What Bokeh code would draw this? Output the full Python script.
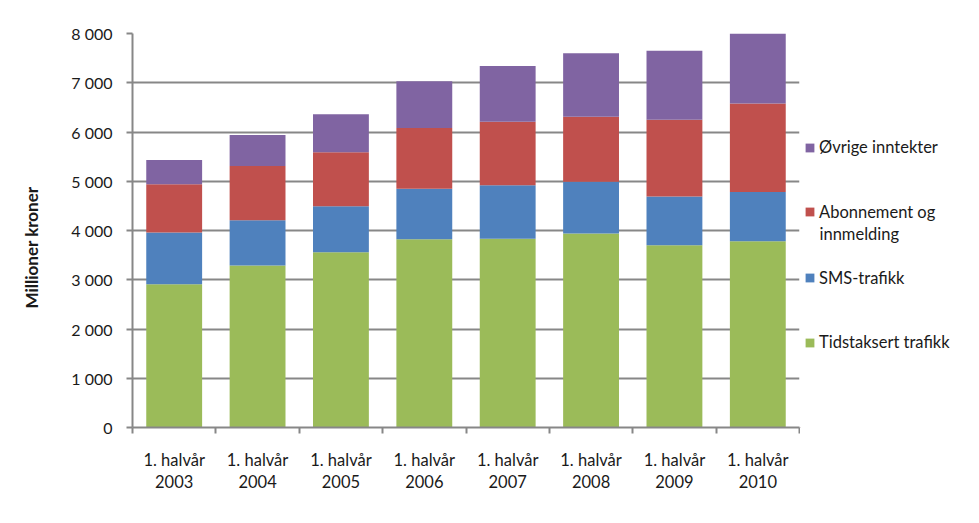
from bokeh.plotting import figure
from bokeh.layouts import row
from bokeh.models import FixedTicker, Legend, LegendItem, Label, Range1d, ColumnDataSource
from bokeh.embed import file_html
from bokeh.resources import INLINE

periods = ["1. halvår\n2003", "1. halvår\n2004", "1. halvår\n2005", "1. halvår\n2006",
           "1. halvår\n2007", "1. halvår\n2008", "1. halvår\n2009", "1. halvår\n2010"]
tidstaksert = [2910, 3290, 3560, 3820, 3835, 3940, 3700, 3780]
sms = [1050, 920, 930, 1030, 1085, 1050, 990, 1000]
abonnement = [980, 1100, 1100, 1230, 1290, 1320, 1560, 1800]
ovrige = [490, 630, 770, 950, 1130, 1290, 1400, 1420]
series_names = ["Tidstaksert trafikk", "SMS-trafikk", "Abonnement og", "Øvrige inntekter"]
colors = ["#9BBB59", "#4F81BD", "#C0504D", "#8064A2"]
y_ticks = [0, 1000, 2000, 3000, 4000, 5000, 6000, 7000, 8000]
y_labels = ["0", "1 000", "2 000", "3 000", "4 000", "5 000", "6 000", "7 000", "8 000"]

FONT = "Lato"
FS = "16px"
FS2 = "16.5px"
TXT = "#1a1a1a"
GRID = "#878787"

xs = [i + 0.5 for i in range(len(periods))]
src = ColumnDataSource(dict(x=xs, t=tidstaksert, s=sms, a=abonnement, o=ovrige))

p = figure(width=800, height=523, x_range=Range1d(0, len(periods)), y_range=Range1d(0, 8000),
           output_backend="svg", toolbar_location=None,
           min_border_left=132, min_border_right=1, min_border_top=33, min_border_bottom=96)
p.outline_line_color = None
p.background_fill_color = "white"

rs = p.vbar_stack(["t", "s", "a", "o"], x="x", width=0.67, color=colors, line_color=None, source=src)

# y axis
p.yaxis.ticker = FixedTicker(ticks=y_ticks)
p.yaxis.major_label_overrides = {t: l for t, l in zip(y_ticks, y_labels)}
p.yaxis.minor_tick_line_color = None
p.yaxis.major_tick_in = 0
p.yaxis.major_tick_out = 6
p.yaxis.major_tick_line_color = GRID
p.yaxis.major_tick_line_width = 2
p.yaxis.axis_line_color = GRID
p.yaxis.axis_line_width = 2
p.yaxis.major_label_standoff = 14
p.yaxis.major_label_text_font = FONT
p.yaxis.major_label_text_font_size = FS
p.yaxis.major_label_text_color = TXT
p.yaxis.axis_label = "Millioner kroner" + "\u2002" * 4
p.yaxis.axis_label_text_font = FONT
p.yaxis.axis_label_text_font_size = "17px"
p.yaxis.axis_label_text_font_style = "bold"
p.yaxis.axis_label_text_color = TXT
p.yaxis.axis_label_standoff = 26

# x axis
p.xaxis.ticker = FixedTicker(ticks=xs, minor_ticks=list(range(len(periods) + 1)))
p.xaxis.major_label_overrides = {x: l for x, l in zip(xs, periods)}
p.xaxis.major_tick_in = 0
p.xaxis.major_tick_out = 0
p.xaxis.minor_tick_in = 0
p.xaxis.minor_tick_out = 6
p.xaxis.minor_tick_line_color = GRID
p.xaxis.minor_tick_line_width = 2
p.xaxis.axis_line_color = GRID
p.xaxis.axis_line_width = 2
p.xaxis.major_label_standoff = 16
p.xaxis.major_label_text_font = FONT
p.xaxis.major_label_text_font_size = FS2
p.xaxis.major_label_text_color = TXT
p.xaxis.major_label_text_line_height = 1.12

p.xgrid.visible = False
p.ygrid.grid_line_color = GRID
p.ygrid.grid_line_width = 2

# legend panel (separate figure on the right; its frame matches the main frame's height,
# y range set so that data y = 523 - page y)
lp = figure(width=179, height=523, x_range=Range1d(0, 179), y_range=Range1d(96, 490),
            output_backend="svg", toolbar_location=None,
            x_axis_location=None, y_axis_location=None,
            min_border_left=0, min_border_right=0, min_border_top=33, min_border_bottom=96)
lp.outline_line_color = None
lp.xgrid.visible = False
lp.ygrid.visible = False
legend_pos = [(4, 75), (4, 139.5), (4, 205.5), (4, 270)]
for name, c, pos in zip(series_names, colors, legend_pos):
    dummy = ColumnDataSource(dict(x=[-1000], top=[0]))
    dr = lp.vbar(x="x", top="top", width=1, color=c, line_color=None, source=dummy)
    lg = Legend(items=[LegendItem(label=name, renderers=[dr])], location=pos,
                glyph_width=11, glyph_height=11, label_standoff=4, label_height=20,
                padding=0, margin=0, spacing=0,
                background_fill_alpha=0, border_line_alpha=0,
                label_text_font=FONT, label_text_font_size=FS2, label_text_color=TXT)
    lp.add_layout(lg)
lp.add_layout(Label(x=19, y=523 - 233, text="innmelding", text_font=FONT,
                    text_font_size=FS2, text_color=TXT, text_baseline="middle"))

layout = row(p, lp, spacing=0)
open("out.html", "w").write(file_html(layout, INLINE))
